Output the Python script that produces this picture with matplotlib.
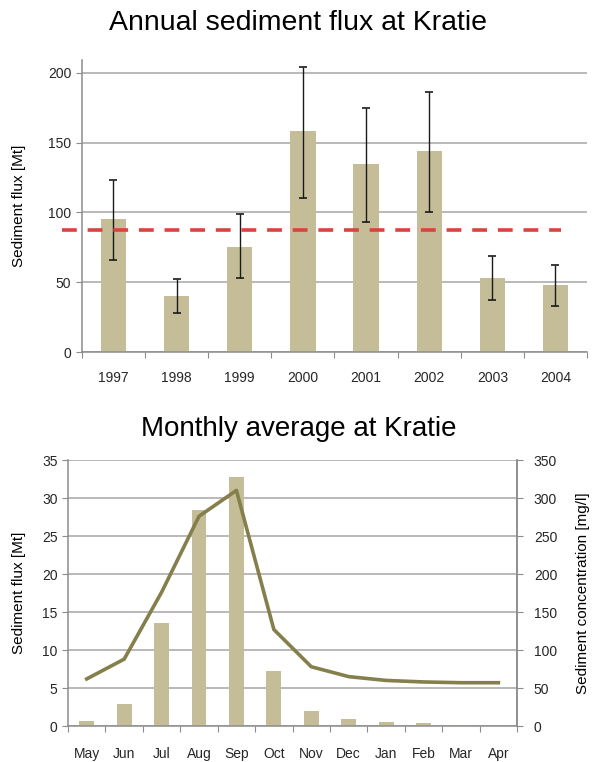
import numpy as np
import matplotlib
matplotlib.use("Agg")
import matplotlib.pyplot as plt

plt.rcParams["font.family"] = ["Liberation Sans", "DejaVu Sans"]

# Annual data
years = ["1997", "1998", "1999", "2000", "2001", "2002", "2003", "2004"]
annual_flux = [95, 40, 75, 158, 135, 144, 53, 48]
err_high = [123, 52, 99, 204, 175, 186, 69, 62]
err_low = [66, 28, 53, 110, 93, 100, 37, 33]
annual_mean = 87.5

# Monthly data
months = ["May", "Jun", "Jul", "Aug", "Sep", "Oct", "Nov", "Dec", "Jan", "Feb", "Mar", "Apr"]
monthly_flux = [0.7, 2.9, 13.5, 28.4, 32.8, 7.2, 2.0, 0.9, 0.5, 0.35, 0.15, 0.1]
monthly_conc = [62, 88, 176, 276, 310, 127, 78, 65, 60, 58, 57, 57]

bar_color = "#c4bd97"
line_color = "#857f4c"
grid_color = "#a6a6a6"
spine_color = "#8c8c8c"

fig = plt.figure(figsize=(5.93, 7.62), dpi=100)


def style_axis(ax, n, pad):
    ax.set_xlim(-0.5, n - 0.5)
    ax.set_xticks(np.arange(n + 1) - 0.5)
    ax.set_xticklabels([])
    ax.set_xticks(np.arange(n), minor=True)
    ax.tick_params(axis="x", which="major", length=4, color=spine_color, direction="out")
    ax.tick_params(axis="x", which="minor", length=0, pad=pad, labelsize=10, labelcolor="#262626")
    ax.tick_params(axis="y", length=4, color=spine_color, labelsize=10, labelcolor="#262626")
    ax.yaxis.grid(True, color=grid_color, linewidth=1.1)
    ax.set_axisbelow(True)
    for s in ["top", "right"]:
        ax.spines[s].set_visible(False)
    for s in ["left", "bottom"]:
        ax.spines[s].set_color(spine_color)
        ax.spines[s].set_linewidth(1.1)


# ---- Annual sediment flux ----
ax1 = fig.add_axes([0.138, 0.538, 0.852, 0.383])
x = np.arange(len(years))
flux = np.array(annual_flux)
yerr = [flux - np.array(err_low), np.array(err_high) - flux]
ax1.bar(x, flux, width=0.4, color=bar_color, zorder=2)
ax1.errorbar(x, flux, yerr=yerr, fmt="none", ecolor="#1a1a1a", elinewidth=1,
             capsize=3, capthick=1.2, zorder=3)
ax1.plot([-0.82, 7.09], [annual_mean, annual_mean], color="#d9423e",
         linestyle=(0, (4.1, 3.0)), linewidth=2.6, clip_on=False, zorder=4)
style_axis(ax1, len(years), pad=14)
ax1.set_xticklabels(years, minor=True)
ax1.set_ylim(0, 209)
ax1.set_yticks([0, 50, 100, 150, 200])
ax1.set_ylabel("Sediment flux [Mt]", fontsize=11)
ax1.yaxis.set_label_coords(-0.111, 0.5)
fig.text(0.503, 0.970, "Annual sediment flux at Kratie", ha="center", va="center", fontsize=20.5)

# ---- Monthly average ----
ax2 = fig.add_axes([0.1147, 0.0472, 0.7573, 0.3491])
xm = np.arange(len(months))
ax2.bar(xm, monthly_flux, width=0.4, color=bar_color, zorder=2)
style_axis(ax2, len(months), pad=15)
ax2.spines["right"].set_visible(True)
ax2.spines["right"].set_color(spine_color)
ax2.spines["right"].set_linewidth(1.1)
ax2.set_xticklabels(months, minor=True)
ax2.set_ylim(0, 35)
ax2.set_yticks(np.arange(0, 36, 5))
ax2.set_ylabel("Sediment flux [Mt]", fontsize=11)
ax2.yaxis.set_label_coords(-0.094, 0.5)

ax3 = ax2.twinx()
ax3.plot(xm, monthly_conc, color=line_color, linewidth=2.6, zorder=5)
ax3.set_ylim(0, 350)
ax3.set_yticks(np.arange(0, 351, 50))
ax3.tick_params(axis="y", length=4, color=spine_color, labelsize=10, labelcolor="#262626", pad=8)
for s in ["top", "left", "bottom"]:
    ax3.spines[s].set_visible(False)
ax3.spines["right"].set_color(spine_color)
ax3.spines["right"].set_linewidth(1.1)
ax3.set_ylabel("Sediment concentration [mg/l]", fontsize=11)
ax3.yaxis.set_label_coords(1.132, 0.5)
fig.text(0.503, 0.437, "Monthly average at Kratie", ha="center", va="center", fontsize=20)

fig.savefig("out.png", dpi=100)
